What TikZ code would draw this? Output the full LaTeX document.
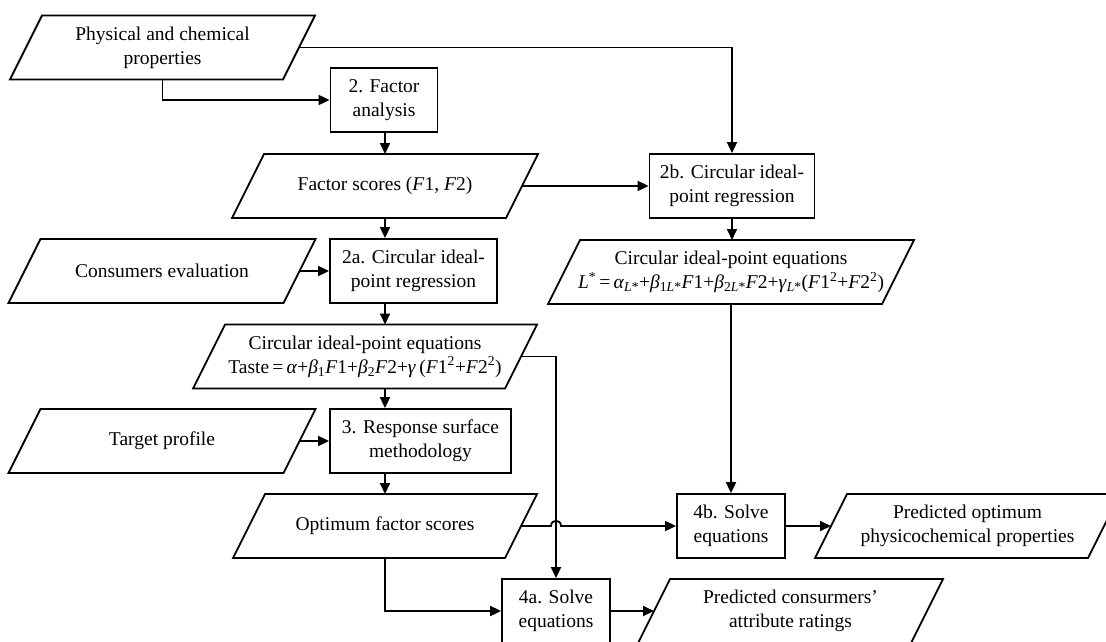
\documentclass[tikz,border=0pt]{standalone}
\usepackage{fontspec}
\setmainfont{Liberation Serif}
\usepackage{tikz}
\usetikzlibrary{arrows.meta,calc}

\newcommand{\diagfont}{\fontsize{19.5pt}{24pt}\selectfont}
\newcommand{\vi}[1]{\textit{#1}}

\begin{document}
\begin{tikzpicture}[x=1pt, y=-1pt,
  proc/.style={draw, line width=1.8pt, minimum height=64pt, inner sep=2pt, align=center, font=\diagfont},
  io/.style={minimum height=64pt, inner sep=0pt, outer sep=0pt, align=center, font=\diagfont,
    append after command={\pgfextra{\draw[line width=1.8pt]
      ([xshift=16pt]\tikzlastnode.north west) -- ([xshift=16pt]\tikzlastnode.north east) --
      ([xshift=-16pt]\tikzlastnode.south east) -- ([xshift=-16pt]\tikzlastnode.south west) -- cycle;}}},
  arr/.style={line width=1.8pt, -{Triangle[length=11pt, width=10pt]}}]
\useasboundingbox (0,0) rectangle (1106,641);

% left column: inputs
\node[io, minimum width=273pt] (props) at (162.5,47.5) {Physical and chemical\\properties};
\node[io, minimum width=275pt] (consum) at (162,271) {Consumers evaluation};
\node[io, minimum width=275pt] (target) at (162,441) {Target profile};

% middle column
\coordinate (col) at (385,0);
\node[proc, minimum width=107pt] (fa) at (384,100) {2. Factor\\analysis};
\node[io, minimum width=274pt] (fscores) at (385,186) {Factor scores (\vi{F}1, \vi{F}2)};
\node[proc, minimum width=167pt] (cira) at (413.5,271) {2a. Circular ideal-\\point regression};
\node[io, minimum width=312pt] (eqa) at (365,356.5) {Circular ideal-point equations\\
  Taste\,=\,\vi{α}+\vi{β}\textsubscript{1}\vi{F}1+\vi{β}\textsubscript{2}\vi{F}2+\vi{γ}\,(\vi{F}1\textsuperscript{2}+\vi{F}2\textsuperscript{2})};
\node[proc, minimum width=181pt] (rsm) at (420.5,441) {3. Response surface\\methodology};
\node[io, minimum width=272pt] (optscores) at (385,526) {Optimum factor scores};
\node[proc, minimum width=108pt] (solvea) at (556,611) {4a. Solve\\equations};
\node[io, minimum width=273pt] (predcons) at (790.5,611) {Predicted consurmers’\\attribute ratings};

% right column
\node[proc, minimum width=165pt] (cirb) at (732,186) {2b. Circular ideal-\\point regression};
\node[io, minimum width=334pt] (eqb) at (731,272) {Circular ideal-point equations\\
  \vi{L}\textsuperscript{*}\,=\,\vi{α}\textsubscript{\vi{L}*}+\vi{β}\textsubscript{1\vi{L}*}\vi{F}1+\vi{β}\textsubscript{2\vi{L}*}\vi{F}2+\vi{γ}\textsubscript{\vi{L}*}(\vi{F}1\textsuperscript{2}+\vi{F}2\textsuperscript{2})};
\node[proc, minimum width=108pt] (solveb) at (731,526) {4b. Solve\\equations};
\node[io, minimum width=273pt] (predopt) at (967.5,526) {Predicted optimum\\physicochemical properties};

% connectors
\draw[arr] (props.south) |- (fa.west);
\draw[arr] (props.east) -| (cirb.north);
\draw[arr] (fa.south -| col) -- (fscores.north -| col);
\draw[arr] (fscores.south -| col) -- (cira.north -| col);
\draw[arr] (fscores.east) -- (cirb.west);
\draw[arr] (consum.east) -- (cira.west);
\draw[arr] (cira.south -| col) -- (eqa.north -| col);
\draw[arr] (cirb.south) -- (cirb.south |- eqb.north);
\draw[arr] (eqa.south -| col) -- (rsm.north -| col);
\draw[arr] (target.east) -- (rsm.west);
\draw[arr] (eqa.east) -| (solvea.north);
\draw[arr] (rsm.south -| col) -- (optscores.north -| col);
\draw[arr] (eqb.south -| solveb.north) -- (solveb.north);
\coordinate (hop) at (optscores.east -| solvea.north);
\draw[arr] (optscores.east) -- ($(hop)+(-5,0)$)
  .. controls ($(hop)+(-5,-7)$) and ($(hop)+(5,-7)$) .. ($(hop)+(5,0)$) -- (solveb.west);
\draw[arr] (solveb.east) -- (predopt.west);
\draw[arr] (optscores.south -| col) |- (solvea.west);
\draw[arr] (solvea.east) -- (predcons.west);
\end{tikzpicture}
\end{document}
